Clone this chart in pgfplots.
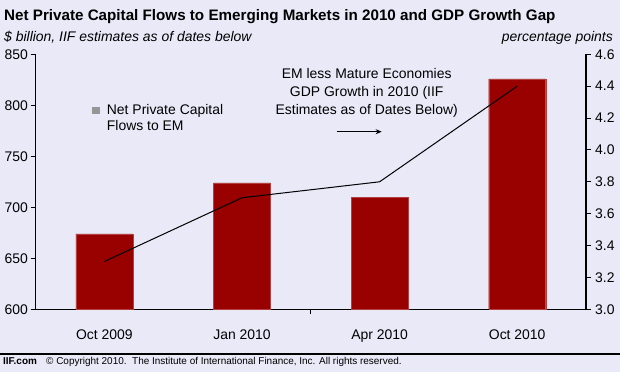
\documentclass[border=0pt]{standalone}
\usepackage{pgfplots}
\pgfplotsset{compat=1.18}
\usepackage{fontspec}
\setmainfont{Liberation Sans}
\usetikzlibrary{arrows.meta}
\definecolor{bgc}{RGB}{233,233,248}
\definecolor{barred}{RGB}{153,0,0}
\definecolor{leggray}{RGB}{150,150,150}
\pgfplotsset{
  common/.style={
    scale only axis, width=550.4bp, height=255bp,
    at={(35.6bp,62.7bp)}, anchor=south west,
    xmin=-0.5, xmax=3.5,
    tick align=outside, major tick length=5bp,
    axis line style={line width=1.2bp},
    every tick/.style={black, line width=1bp},
    ticklabel style={font=\fontsize{14}{16}\selectfont, inner sep=0pt},
    /pgf/number format/assume math mode=true,
    clip=false,
  }
}
\begin{document}
\begin{tikzpicture}[x=1bp,y=1bp]
\fill[bgc] (0,0) rectangle (620,372);
\useasboundingbox (0,0) rectangle (620,372);
\begin{axis}[common,
  ymin=600, ymax=850, ytick={600,650,700,750,800,850},
  axis x line*=bottom, axis y line*=left,
  xtick={1.5}, xticklabels={},
  extra x ticks={0,1,2,3},
  extra x tick labels={Oct 2009,Jan 2010,Apr 2010,Oct 2010},
  extra x tick style={major tick length=0pt, xticklabel style={anchor=base, yshift=-30.2bp}},
  yticklabel style={anchor=east, xshift=-2.4bp},
  ybar, bar width=57bp,
]
\addplot[fill=barred, draw=barred!75!white, line width=0.4bp] coordinates {(0,674) (1,724) (2,710) (3,826)};
\end{axis}
\begin{axis}[common,
  ymin=3, ymax=4.6, ytick={3,3.2,3.4,3.6,3.8,4,4.2,4.4,4.6},
  yticklabel style={/pgf/number format/fixed, /pgf/number format/fixed zerofill, /pgf/number format/precision=1, anchor=west, xshift=4bp},
  axis y line*=right, axis x line=none,
]
\addplot[black, line width=1bp, mark=none] coordinates {(0,3.3) (1,3.7) (2,3.8) (3,4.4)};
\end{axis}
\node[anchor=base west, inner sep=0pt, font=\bfseries\fontsize{15.25}{17}\selectfont] at (4,352) {Net Private Capital Flows to Emerging Markets in 2010 and GDP Growth Gap};
\node[anchor=base west, inner sep=0pt, font=\itshape\fontsize{14}{16}\selectfont] at (4,330.5) {\$ billion, IIF estimates as of dates below};
\node[anchor=base east, inner sep=0pt, font=\itshape\fontsize{14}{16}\selectfont] at (613,330.5) {percentage points};
\fill[leggray] (92,258.5) rectangle (100,265.5);
\node[anchor=base west, inner sep=0pt, font=\fontsize{14}{16}\selectfont] at (106.7,258) {Net Private Capital};
\node[anchor=base west, inner sep=0pt, font=\fontsize{14}{16}\selectfont] at (106.7,241.3) {Flows to EM};
\node[anchor=base, inner sep=0pt, font=\fontsize{14}{16}\selectfont] at (366.7,293.7) {EM less Mature Economies};
\node[anchor=base, inner sep=0pt, font=\fontsize{14}{16}\selectfont] at (366.7,275.3) {GDP Growth in 2010 (IIF};
\node[anchor=base, inner sep=0pt, font=\fontsize{14}{16}\selectfont] at (366.7,257.7) {Estimates as of Dates Below)};
\draw[-{Stealth[length=6bp,width=5bp]}, line width=1bp] (336.7,240.3) -- (381.7,240.3);
\draw[line width=2bp] (0,18.3) -- (620,18.3);
\node[anchor=base west, inner sep=0pt, font=\bfseries\fontsize{10}{12}\selectfont] at (3,7.2) {IIF.com};
\node[anchor=base west, inner sep=0pt, font=\fontsize{10}{12}\selectfont] at (46,7.2) {© Copyright 2010.\ \ The Institute of International Finance, Inc. All rights reserved.};
\end{tikzpicture}
\end{document}
